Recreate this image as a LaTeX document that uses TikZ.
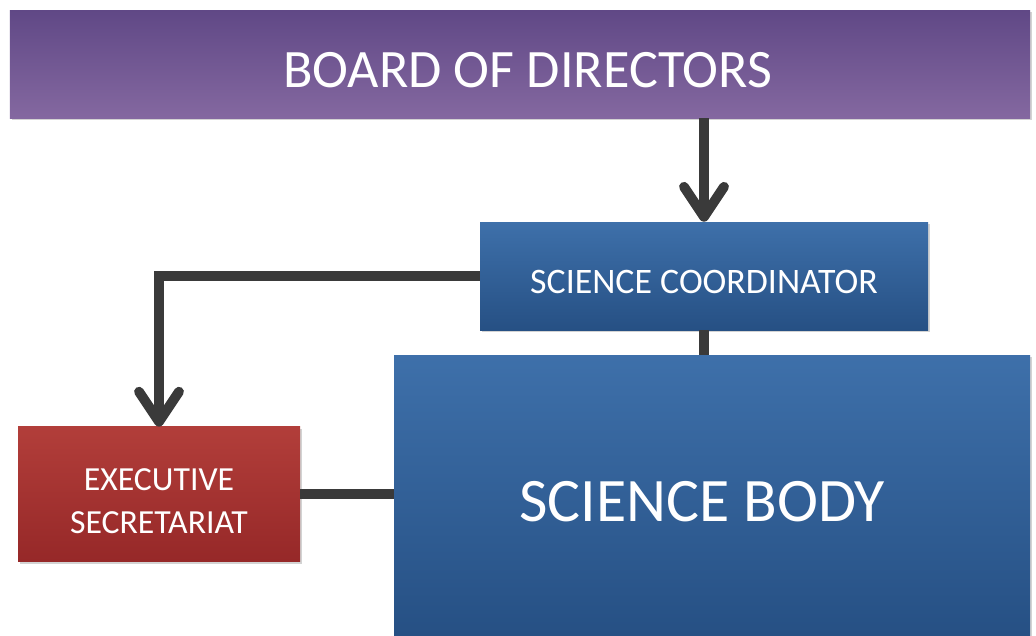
\documentclass[tikz,border=0pt]{standalone}
\usepackage{fontspec}
\setmainfont{Carlito}
\usetikzlibrary{arrows.meta, shadows}
\definecolor{myboardtop}{RGB}{96,72,134}
\definecolor{myboardbottom}{RGB}{132,104,160}
\definecolor{mybluetop}{RGB}{62,112,170}
\definecolor{mybluebottom}{RGB}{38,80,132}
\definecolor{myredtop}{RGB}{178,62,58}
\definecolor{myredbottom}{RGB}{150,40,40}
\definecolor{mylinegray}{RGB}{58,58,58}
\newcommand{\sizeboard}{\fontsize{38.5}{40}\selectfont}
\newcommand{\sizesmall}{\fontsize{25.5}{31}\selectfont}
\newcommand{\sizeexec}{\fontsize{24}{31}\selectfont}
\newcommand{\sizebody}{\fontsize{44}{46}\selectfont}
\tikzset{
    common/.style={rectangle, inner sep=0pt, text=white, align=center,
        drop shadow={opacity=0.35, shadow xshift=1.5pt, shadow yshift=-1.5pt}},
    lowtext/.style={text height=#1, text depth=0pt},
    boardbox/.style={common, top color=myboardtop, bottom color=myboardbottom},
    bluebox/.style={common, top color=mybluetop, bottom color=mybluebottom},
    redbox/.style={common, top color=myredtop, bottom color=myredbottom},
    link/.style={draw=mylinegray, line width=7pt},
    arrowlink/.style={link, -{Straight Barb[length=0.75cm, width=1.0cm, round]}}
}
\begin{document}
\begin{tikzpicture}
    \useasboundingbox (0,0) rectangle (25.9,-15.875);

    \node[boardbox, font=\sizeboard, lowtext=33pt, minimum width=25.5cm, minimum height=2.7cm] (board) at (13.0,-1.6) {\hspace*{11pt}BOARD OF DIRECTORS};
    \node[bluebox, font=\sizesmall, lowtext=25pt, minimum width=11.2cm, minimum height=2.7cm] (coord) at (17.6,-6.9) {SCIENCE COORDINATOR};
    \node[bluebox, font=\sizebody, lowtext=37pt, minimum width=15.9cm, minimum height=7.0cm] (body) at (17.8,-12.375) {SCIENCE BODY\hspace*{14pt}};
    \node[redbox, font=\sizeexec, lowtext=56pt, minimum width=7.05cm, minimum height=3.375cm] (exec) at (3.975,-12.36) {EXECUTIVE\\ SECRETARIAT};

    \draw[arrowlink] (board.south -| coord.north) -- (coord.north);
    \draw[link] (coord.south) -- (coord.south |- body.north);
    \draw[arrowlink] (coord.west) -| (exec.north);
    \draw[link] (exec.east) -- (exec.east -| body.west);

\end{tikzpicture}
\end{document}
